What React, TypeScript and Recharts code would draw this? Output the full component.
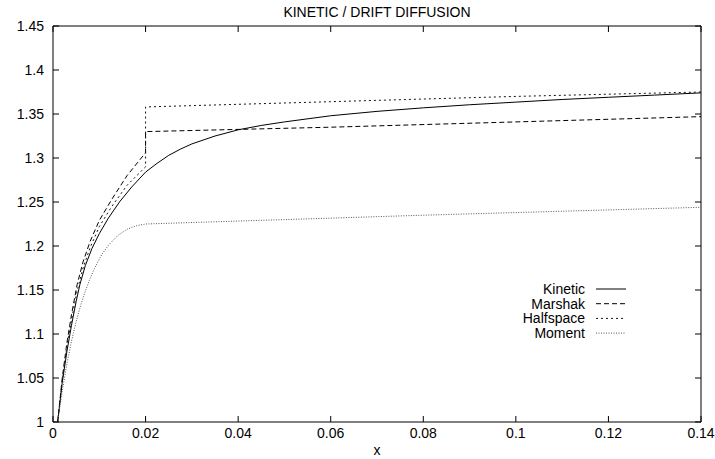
import React from "react"
import { LineChart, Line, XAxis, YAxis, ReferenceLine } from "recharts"

// values
const kineticX = [0.001, 0.002, 0.003, 0.004, 0.005, 0.0058, 0.007, 0.0084, 0.01, 0.012, 0.0145, 0.017, 0.02, 0.0225, 0.025, 0.0275, 0.03, 0.035, 0.04, 0.045, 0.05, 0.06, 0.07, 0.08, 0.09, 0.1, 0.11, 0.12, 0.13, 0.14]
const kineticY = [1.0, 1.045, 1.08, 1.11, 1.137, 1.156, 1.178, 1.197, 1.214, 1.232, 1.251, 1.267, 1.284, 1.294, 1.303, 1.31, 1.316, 1.325, 1.332, 1.337, 1.341, 1.348, 1.353, 1.357, 1.3605, 1.3635, 1.3665, 1.369, 1.3715, 1.374]

const marshakX = [0.001, 0.002, 0.003, 0.004, 0.0052, 0.0065, 0.008, 0.01, 0.0127, 0.016, 0.02, 0.02, 0.06, 0.1, 0.14]
const marshakY = [1.0, 1.05, 1.09, 1.122, 1.156, 1.182, 1.205, 1.229, 1.253, 1.28, 1.306, 1.33, 1.335, 1.341, 1.347]

const halfspaceX = [0.001, 0.002, 0.003, 0.004, 0.0052, 0.0065, 0.008, 0.01, 0.0127, 0.016, 0.02, 0.02, 0.06, 0.1, 0.14]
const halfspaceY = [1.0, 1.047, 1.085, 1.116, 1.149, 1.175, 1.198, 1.222, 1.245, 1.269, 1.29, 1.358, 1.364, 1.37, 1.375]

const momentX = [0.001, 0.002, 0.003, 0.004, 0.005, 0.006, 0.007, 0.008, 0.009, 0.0105, 0.012, 0.014, 0.016, 0.018, 0.02, 0.08, 0.14]
const momentY = [1.0, 1.035, 1.066, 1.092, 1.114, 1.133, 1.149, 1.163, 1.175, 1.19, 1.201, 1.212, 1.219, 1.223, 1.225, 1.235, 1.244]

const xTicks = [0, 0.02, 0.04, 0.06, 0.08, 0.1, 0.12, 0.14]
const yTicks = [1, 1.05, 1.1, 1.15, 1.2, 1.25, 1.3, 1.35, 1.4, 1.45]

const X_DOMAIN = [0, 0.14]
const Y_DOMAIN = [1, 1.45]

const pairs = (xs: number[], ys: number[]) => xs.map((x, i) => ({ x, y: ys[i] }))

const series = [
  { name: "Kinetic", data: pairs(kineticX, kineticY), stroke: "#000", dash: undefined },
  { name: "Marshak", data: pairs(marshakX, marshakY), stroke: "#000", dash: "5 3" },
  { name: "Halfspace", data: pairs(halfspaceX, halfspaceY), stroke: "#111", dash: "2 3" },
  { name: "Moment", data: pairs(momentX, momentY), stroke: "#555", dash: "1 1.5" },
]

const FONT = "'Liberation Sans', Arial, sans-serif"
const tickFont = { fontSize: 14, fontFamily: FONT, fill: "#000" }

const W = 715
const H = 459
const MARGIN = { top: 26, right: 14, left: 0, bottom: 0 }
const Y_AXIS_W = 53
const X_AXIS_H = 37
const PLOT_W = W - MARGIN.left - MARGIN.right - Y_AXIS_W
const PLOT_H = H - MARGIN.top - MARGIN.bottom - X_AXIS_H
// inward tick length (6px) expressed in data units
const TICK_DX = ((X_DOMAIN[1] - X_DOMAIN[0]) * 6) / PLOT_W
const TICK_DY = ((Y_DOMAIN[1] - Y_DOMAIN[0]) * 6) / PLOT_H

const KeyBox = () => (
  <svg width={140} height={64} style={{ overflow: "visible", position: "absolute", left: 497, top: 289 }}>
    {series.map((s, i) => (
      <g key={s.name}>
        <text x={88} y={i * 14.7 + 5} textAnchor="end" fontSize={14} fontFamily={FONT} fill="#000">
          {s.name}
        </text>
        <line x1={99} x2={129} y1={i * 14.7} y2={i * 14.7} stroke={s.stroke} strokeDasharray={s.dash} />
      </g>
    ))}
  </svg>
)

export default function App() {
  return (
    <div style={{ position: "absolute", left: 0, top: 0, width: W, height: H, background: "#fff" }}>
      <div
        style={{
          position: "absolute",
          left: 53,
          width: 648,
          top: 4,
          textAlign: "center",
          fontFamily: FONT,
          fontSize: 14,
          lineHeight: "16px",
        }}
      >
        KINETIC / DRIFT DIFFUSION
      </div>
      <LineChart width={W} height={H} margin={MARGIN}>
        <XAxis
          xAxisId="b"
          dataKey="x"
          type="number"
          domain={X_DOMAIN}
          ticks={xTicks}
          interval={0}
          allowDataOverflow
          height={X_AXIS_H}
          tickSize={0}
          tickMargin={6}
          tickLine={false}
          axisLine={{ stroke: "#000" }}
          tick={tickFont}
          label={{ value: "x", position: "insideBottom", offset: 4, fontSize: 14, fontFamily: FONT, fill: "#000" }}
        />
        <YAxis
          yAxisId="l"
          type="number"
          domain={Y_DOMAIN}
          ticks={yTicks}
          interval={0}
          allowDataOverflow
          width={Y_AXIS_W}
          tickSize={0}
          tickMargin={9}
          tickLine={false}
          axisLine={{ stroke: "#000" }}
          tick={tickFont}
        />
        {/* frame top and right */}
        <ReferenceLine xAxisId="b" yAxisId="l" y={Y_DOMAIN[1]} stroke="#000" ifOverflow="visible" />
        <ReferenceLine xAxisId="b" yAxisId="l" x={X_DOMAIN[1]} stroke="#000" ifOverflow="visible" />
        {/* inward ticks on all four sides */}
        {xTicks.map((t) => (
          <ReferenceLine
            key={"xb" + t}
            xAxisId="b"
            yAxisId="l"
            ifOverflow="visible"
            stroke="#000"
            segment={[{ x: t, y: Y_DOMAIN[0] }, { x: t, y: Y_DOMAIN[0] + TICK_DY }]}
          />
        ))}
        {xTicks.map((t) => (
          <ReferenceLine
            key={"xt" + t}
            xAxisId="b"
            yAxisId="l"
            ifOverflow="visible"
            stroke="#000"
            segment={[{ x: t, y: Y_DOMAIN[1] }, { x: t, y: Y_DOMAIN[1] - TICK_DY }]}
          />
        ))}
        {yTicks.map((t) => (
          <ReferenceLine
            key={"yl" + t}
            xAxisId="b"
            yAxisId="l"
            ifOverflow="visible"
            stroke="#000"
            segment={[{ x: X_DOMAIN[0], y: t }, { x: X_DOMAIN[0] + TICK_DX, y: t }]}
          />
        ))}
        {yTicks.map((t) => (
          <ReferenceLine
            key={"yr" + t}
            xAxisId="b"
            yAxisId="l"
            ifOverflow="visible"
            stroke="#000"
            segment={[{ x: X_DOMAIN[1], y: t }, { x: X_DOMAIN[1] - TICK_DX, y: t }]}
          />
        ))}
        {series.map((s) => (
          <Line
            key={s.name}
            xAxisId="b"
            yAxisId="l"
            data={s.data}
            dataKey="y"
            name={s.name}
            type="linear"
            stroke={s.stroke}
            strokeWidth={1}
            strokeDasharray={s.dash}
            dot={false}
            activeDot={false}
            isAnimationActive={false}
          />
        ))}
      </LineChart>
      <KeyBox />
    </div>
  )
}
